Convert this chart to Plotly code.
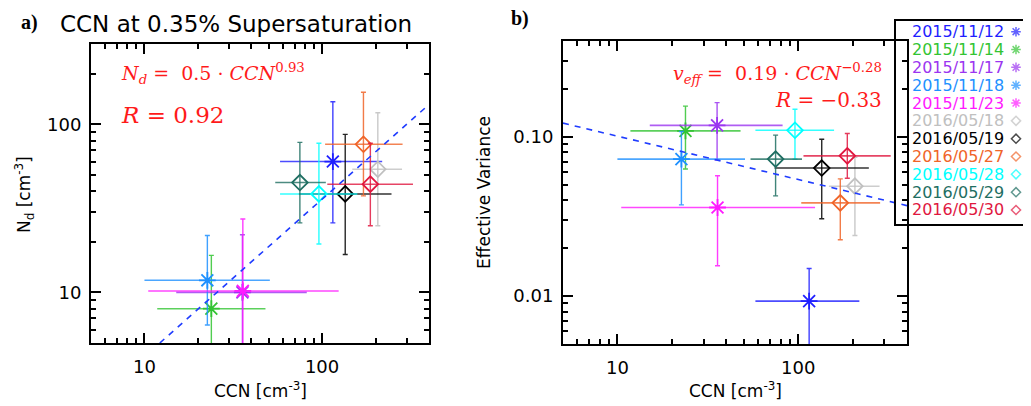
import math
import plotly.graph_objects as go

# the page body has an 8px margin; the figure is sized so that it fills the window
OFF = 8
W, H = 1031 - OFF, 406 - OFF

# ---------------- data ----------------
dates = ["2015/11/12", "2015/11/14", "2015/11/17", "2015/11/18", "2015/11/23",
         "2016/05/18", "2016/05/19", "2016/05/27", "2016/05/28", "2016/05/29", "2016/05/30"]
colors = ["#1f1fff", "#33c433", "#9b35f0", "#1e90ff", "#ff1aff",
          "#c0c0c0", "#000000", "#f06428", "#00ffff", "#1f6e62", "#e0173f"]
symbols = ["asterisk-open"] * 5 + ["diamond-open"] * 6

ccn = [115, 23.8, 35.6, 22.6, 35.8, 206, 135, 171, 96, 75, 187]
ccn_lo = [58, 11.8, 15.1, 10.0, 10.5, 148, 74, 104, 58, 54.5, 107]
ccn_hi = [218, 48, 82, 50.8, 124, 282, 246, 284, 158, 105, 325]

nd = [60, 8.0, 10.0, 11.8, 10.2, 54, 38.5, 76, 38.5, 45, 44]
nd_lo = [25.9, 1.0, 1.0, 6.4, 1.0, 24.9, 16.8, 37.5, 19.4, 25.9, 24.9]
nd_hi = [136, 16.6, 22, 21.8, 27.3, 117, 87, 155, 77, 78, 77]

veff = [0.0093, 0.109, 0.118, 0.0725, 0.036, 0.049, 0.0637, 0.0385, 0.110, 0.0725, 0.076]
veff_lo = [0.002, 0.0628, 0.0715, 0.0374, 0.0155, 0.024, 0.0306, 0.0226, 0.0725, 0.0426, 0.055]
veff_hi = [0.0149, 0.156, 0.164, 0.108, 0.057, 0.0743, 0.0967, 0.0545, 0.149, 0.1025, 0.105]

# fitted lines (end points)
fit_a_x = [12.2, 400]
fit_a_y = [5.0, 131]
fit_b_x = [5, 400]
fit_b_y = [0.122, 0.037]

x_ticks = [10, 100]
nd_ticks = [10, 100]
veff_ticks = [0.01, 0.1]
veff_ticktext = ["0.01", "0.10"]


def px(x):
    return (x - OFF) / W


def py(y):
    return 1 - (y - OFF) / H


def rgba(hexc, a):
    h = hexc.lstrip("#")
    r, g, b = int(h[0:2], 16), int(h[2:4], 16), int(h[4:6], 16)
    return f"rgba({r},{g},{b},{a})"


fig = go.Figure()

for i, d in enumerate(dates):
    ms = 14 if symbols[i].startswith("asterisk") else 12
    common = dict(
        mode="markers",
        marker=dict(symbol=symbols[i], size=ms, color=colors[i],
                    line=dict(color=colors[i], width=1.8)),
        error_x=dict(type="data", symmetric=False,
                     array=[ccn_hi[i] - ccn[i]], arrayminus=[ccn[i] - ccn_lo[i]],
                     color=rgba(colors[i], 0.8), thickness=1.6, width=0),
        showlegend=False, name=d,
    )
    fig.add_trace(go.Scatter(
        x=[ccn[i]], y=[nd[i]], xaxis="x", yaxis="y",
        error_y=dict(type="data", symmetric=False,
                     array=[nd_hi[i] - nd[i]], arrayminus=[nd[i] - nd_lo[i]],
                     color=rgba(colors[i], 0.85), thickness=1.4, width=2.5),
        **common))
    fig.add_trace(go.Scatter(
        x=[ccn[i]], y=[veff[i]], xaxis="x2", yaxis="y2",
        error_y=dict(type="data", symmetric=False,
                     array=[veff_hi[i] - veff[i]], arrayminus=[veff[i] - veff_lo[i]],
                     color=rgba(colors[i], 0.85), thickness=1.4, width=2.5),
        **common))

fig.add_trace(go.Scatter(x=fit_a_x, y=fit_a_y, mode="lines", xaxis="x", yaxis="y",
                         line=dict(color="#1f3cff", width=1.6, dash="6px,6px"),
                         showlegend=False, hoverinfo="skip"))
fig.add_trace(go.Scatter(x=fit_b_x, y=fit_b_y, mode="lines", xaxis="x2", yaxis="y2",
                         line=dict(color="#1f3cff", width=1.6, dash="6px,6px"),
                         showlegend=False, hoverinfo="skip"))

# legend markers on a hidden helper axis
rows = list(range(len(dates)))
fig.add_trace(go.Scatter(
    x=[0] * len(dates), y=rows, xaxis="x3", yaxis="y3", mode="markers",
    marker=dict(symbol=symbols, size=[8 if s.startswith("asterisk") else 7 for s in symbols],
                color=colors, line=dict(color=colors, width=1.5)),
    showlegend=False, hoverinfo="skip"))

tickfont = dict(family="DejaVu Sans", size=18, color="black")
minor_x = [6, 7, 8, 9, 20, 30, 40, 50, 60, 70, 80, 90, 200, 300, 400]


def logaxis(domain, rng, tickvals, ticktext, minor_vals, anchor):
    return dict(
        type="log", domain=domain, range=rng, anchor=anchor,
        tickmode="array", tickvals=tickvals, ticktext=ticktext,
        ticks="inside", ticklen=10, tickwidth=1.5, tickcolor="black",
        showline=True, linecolor="black", linewidth=2, mirror="ticks",
        showgrid=False, zeroline=False, tickfont=tickfont,
        minor=dict(ticks="inside", ticklen=5, tickwidth=1.5, tickcolor="black",
                   tickmode="array", tickvals=minor_vals, showgrid=False),
    )


fig.update_layout(
    width=W, height=H, margin=dict(l=0, r=0, t=0, b=0),
    paper_bgcolor="white", plot_bgcolor="white",
    xaxis=logaxis([px(91), px(429)], [math.log10(5), math.log10(400)],
                  x_ticks, ["10", "100"], minor_x, "y"),
    yaxis=logaxis([py(343), py(44)], [math.log10(5), math.log10(300)],
                  nd_ticks, ["10", "100"],
                  [6, 7, 8, 9, 20, 30, 40, 50, 60, 70, 80, 90, 200, 300], "x"),
    xaxis2=logaxis([px(563), px(907)], [math.log10(5), math.log10(400)],
                   x_ticks, ["10", "100"], minor_x, "y2"),
    yaxis2=logaxis([py(344), py(41)], [math.log10(0.005), math.log10(0.4)],
                   veff_ticks, veff_ticktext,
                   [0.006, 0.007, 0.008, 0.009, 0.02, 0.03, 0.04, 0.05, 0.06, 0.07, 0.08,
                    0.09, 0.2, 0.3, 0.4], "x2"),
    xaxis3=dict(domain=[px(1010), px(1022)], range=[-1, 1], visible=False, anchor="y3"),
    yaxis3=dict(domain=[py(218.9), py(22.8)], range=[10.5, -0.5], visible=False, anchor="x3"),
)
fig.update_xaxes(ticklabelstandoff=6, selector=dict(type="log"))
fig.update_yaxes(ticklabelstandoff=4, selector=dict(type="log"))

ann = []
sans = "DejaVu Sans"
serif = "DejaVu Serif"
ann.append(dict(x=px(58), y=py(24), xref="paper", yref="paper", xanchor="left", yanchor="middle",
                text="CCN at 0.35% Supersaturation", showarrow=False,
                font=dict(family=sans, size=23, color="black")))
ann.append(dict(x=px(19), y=py(22), xref="paper", yref="paper", xanchor="left", yanchor="middle",
                text="<b>a)</b>", showarrow=False,
                font=dict(family="Liberation Serif", size=20, color="black")))
ann.append(dict(x=px(509), y=py(19), xref="paper", yref="paper", xanchor="left", yanchor="middle",
                text="<b>b)</b>", showarrow=False,
                font=dict(family="Liberation Serif", size=20, color="black")))
# axis titles
for xc in (260, 735):
    ann.append(dict(x=px(xc), y=py(390), xref="paper", yref="paper", xanchor="center",
                    yanchor="middle", text="CCN [cm<sup>-3</sup>]", showarrow=False,
                    font=dict(family=sans, size=17, color="black")))
ann.append(dict(x=px(24), y=py(195), xref="paper", yref="paper", xanchor="center",
                yanchor="middle", text="N<sub>d</sub> [cm<sup>-3</sup>]", showarrow=False,
                textangle=-90, font=dict(family=sans, size=17, color="black")))
ann.append(dict(x=px(484), y=py(193), xref="paper", yref="paper", xanchor="center",
                yanchor="middle", text="Effective Variance", showarrow=False,
                textangle=-90, font=dict(family=sans, size=17, color="black")))
# fit equations
red = "#ff1a1a"
ann.append(dict(x=px(119), y=py(73), xref="paper", yref="paper", xanchor="left", yanchor="middle",
                text="<i>N<sub>d</sub></i> =  0.5 · <i>CCN</i><sup>0.93</sup>", showarrow=False,
                font=dict(family=serif, size=19, color=red)))
ann.append(dict(x=px(119), y=py(115), xref="paper", yref="paper", xanchor="left", yanchor="middle",
                text="<i>R</i> = 0.92", showarrow=False,
                font=dict(family=serif, size=23, color=red)))
ann.append(dict(x=px(884), y=py(73), xref="paper", yref="paper", xanchor="right", yanchor="middle",
                text="<i>v<sub>eff</sub></i> =  0.19 · <i>CCN</i><sup>−0.28</sup>", showarrow=False,
                font=dict(family=serif, size=19, color=red)))
ann.append(dict(x=px(884), y=py(100), xref="paper", yref="paper", xanchor="right", yanchor="middle",
                text="<i>R</i> = −0.33", showarrow=False,
                font=dict(family=serif, size=20, color=red)))
# legend text
for i, d in enumerate(dates):
    ann.append(dict(x=px(1006), y=i, xref="paper", yref="y3", xanchor="right", yanchor="middle",
                    text=d, showarrow=False,
                    font=dict(family=sans, size=16, color=colors[i])))
fig.update_layout(annotations=ann)

fig.add_shape(type="rect", xref="paper", yref="paper",
              x0=px(895), x1=px(1027), y0=py(225), y1=py(20),
              line=dict(color="black", width=2), fillcolor="rgba(0,0,0,0)")

fig.write_html("out.html")
